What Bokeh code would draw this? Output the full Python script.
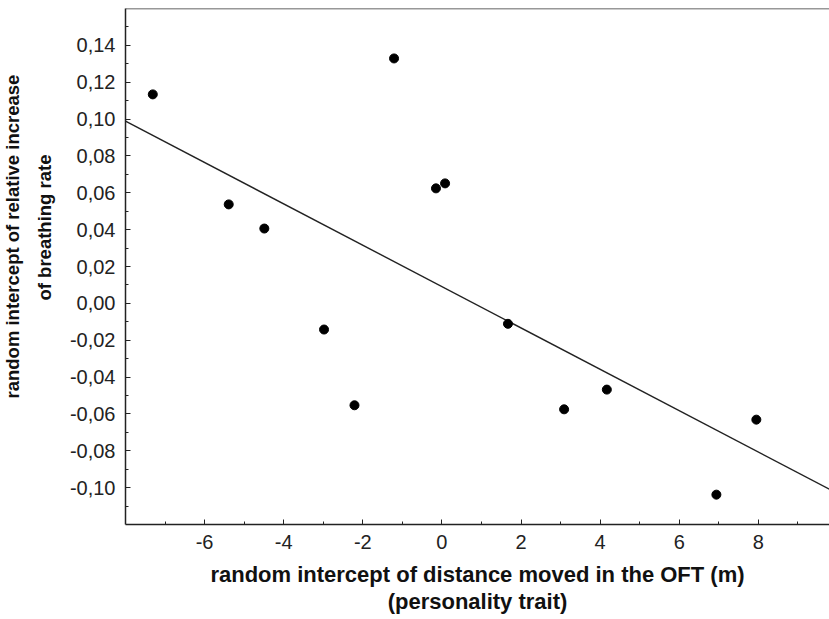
from bokeh.plotting import figure
from bokeh.models import FixedTicker, Span, Range1d, Title
from bokeh.embed import file_html
from bokeh.resources import INLINE

# data
x_vals = [-7.31, -5.39, -4.49, -2.98, -2.21, -1.21, -0.15, 0.08, 1.67, 3.09, 4.17, 6.94, 7.95]
y_vals = [0.1134, 0.0537, 0.0406, -0.0142, -0.0553, 0.1329, 0.0624, 0.0651, -0.0111, -0.0575, -0.0468, -0.1038, -0.0631]

fit_x = [-8.0, 9.8]
fit_slope = -0.01122
fit_intercept = 0.0091

x_ticks = [-6, -4, -2, 0, 2, 4, 6, 8]
x_tick_labels = ["-6", "-4", "-2", "0", "2", "4", "6", "8"]
x_minor = [-7, -5, -3, -1, 1, 3, 5, 7, 9]
y_ticks = [-0.10, -0.08, -0.06, -0.04, -0.02, 0.0, 0.02, 0.04, 0.06, 0.08, 0.10, 0.12, 0.14]
y_tick_labels = ["-0,10", "-0,08", "-0,06", "-0,04", "-0,02", "0,00", "0,02", "0,04",
                 "0,06", "0,08", "0,10", "0,12", "0,14"]
y_minor = [-0.11, -0.09, -0.07, -0.05, -0.03, -0.01, 0.01, 0.03, 0.05, 0.07, 0.09, 0.11, 0.13, 0.15]

x_label = "random intercept of distance moved in the OFT (m)\n(personality trait)"
y_label_lines = ["random intercept of relative increase", "of breathing rate"]

p = figure(width=829, height=619, output_backend="svg", toolbar_location=None,
           x_range=Range1d(-8.0, 9.8), y_range=Range1d(-0.12, 0.16),
           min_border_top=8, min_border_right=0, min_border_left=125, min_border_bottom=95)
p.grid.visible = False
p.outline_line_color = None
p.background_fill_color = "white"
p.border_fill_color = "white"

fy = [fit_intercept + fit_slope * v for v in fit_x]
p.line(fit_x, fy, line_color="#222222", line_width=1.4)
p.scatter(x_vals, y_vals, size=9, fill_color="black", line_color="black")

p.add_layout(Span(location=0.16, dimension="width", line_color="#333333", line_width=1.5))

p.xaxis.ticker = FixedTicker(ticks=x_ticks, minor_ticks=x_minor)
p.xaxis.major_label_overrides = {t: l for t, l in zip(x_ticks, x_tick_labels)}
p.yaxis.ticker = FixedTicker(ticks=y_ticks, minor_ticks=y_minor)
p.yaxis.major_label_overrides = {t: l for t, l in zip(y_ticks, y_tick_labels)}

for ax in (p.xaxis, p.yaxis):
    ax.axis_line_color = "#222222"
    ax.axis_line_width = 1.5
    ax.major_tick_in = 5
    ax.major_tick_out = 0
    ax.minor_tick_in = 3
    ax.minor_tick_out = 0
    ax.major_tick_line_color = "#222222"
    ax.minor_tick_line_color = "#222222"
    ax.major_label_text_font = "Liberation Sans"
    ax.major_label_text_font_size = "20px"
    ax.major_label_text_color = "#222222"
    ax.major_label_standoff = 10
    ax.axis_label_text_font = "Liberation Sans"
    ax.axis_label_text_font_style = "bold"
    ax.axis_label_text_color = "#111111"

p.xaxis.axis_label = x_label
p.xaxis.axis_label_text_font_size = "22px"
p.xaxis.axis_label_text_line_height = 1.1
p.xaxis.axis_label_standoff = 10

# y-axis title: two single-line titles, placed as in the reference
ytitle2 = Title(text=y_label_lines[1], align="left", offset=224, standoff=24,
                text_font="Liberation Sans", text_font_style="bold",
                text_font_size="18.5px", text_color="#111111")
ytitle1 = Title(text=y_label_lines[0], align="left", offset=126, standoff=-7,
                text_font="Liberation Sans", text_font_style="bold",
                text_font_size="18.5px", text_color="#111111")
p.add_layout(ytitle2, "left")
p.add_layout(ytitle1, "left")

open("out.html", "w").write(file_html(p, INLINE))
